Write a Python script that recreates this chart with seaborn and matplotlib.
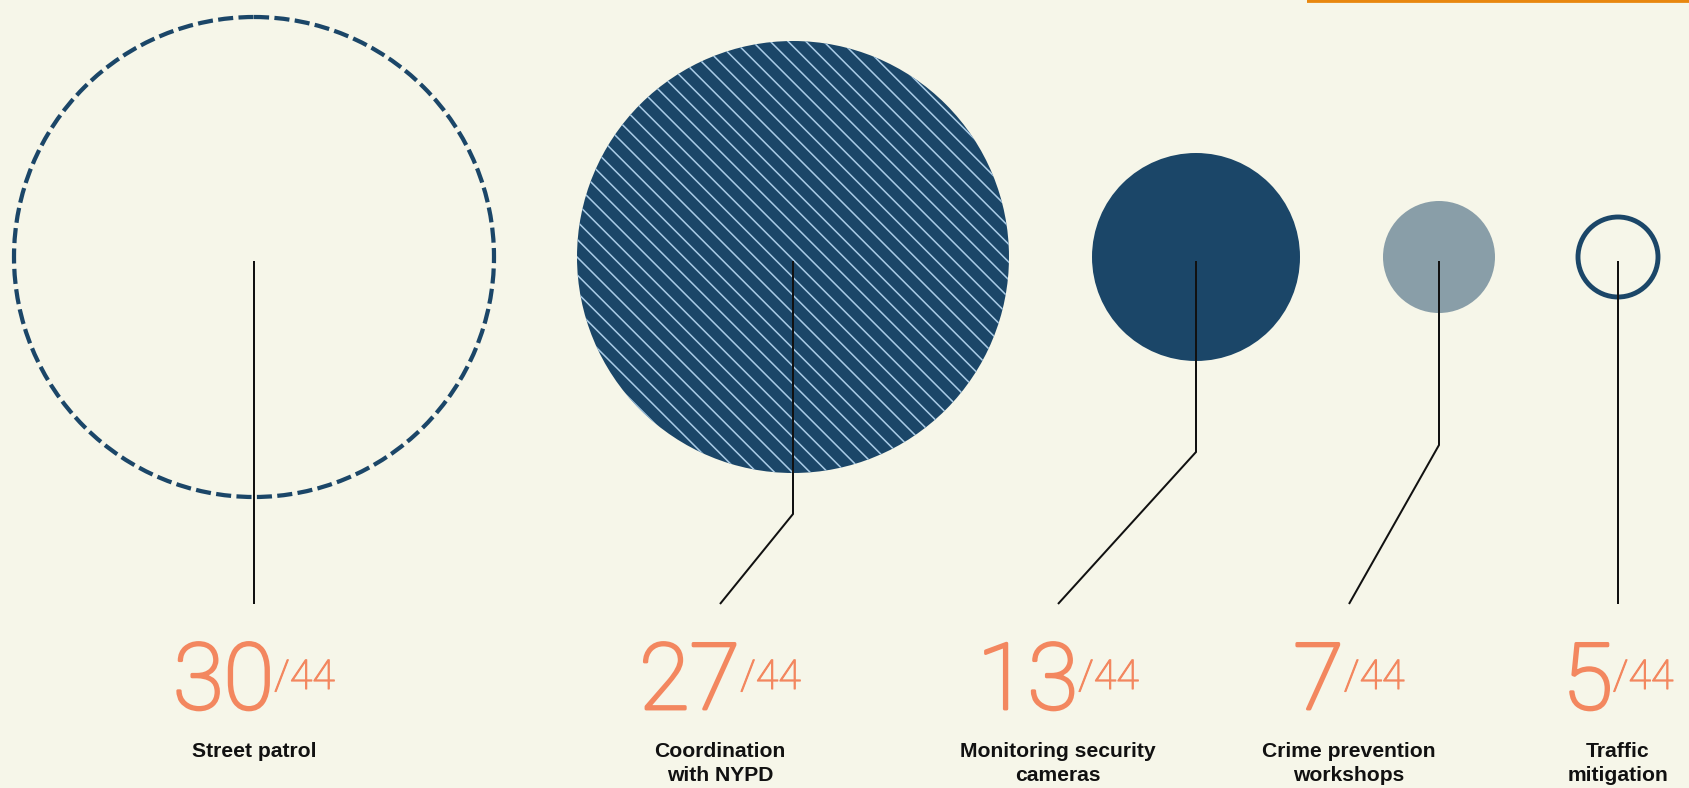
import matplotlib
matplotlib.use("Agg")
import matplotlib.pyplot as plt
import matplotlib.patheffects as pe
from matplotlib.patches import Circle
import seaborn as sns

# --- data ---
categories = [
    "Street patrol",
    "Coordination\nwith NYPD",
    "Monitoring security\ncameras",
    "Crime prevention\nworkshops",
    "Traffic\nmitigation",
]
counts = [30, 27, 13, 7, 5]
total = 44

# --- colours / styles ---
BG = "#F6F6E9"
NAVY = "#1B4668"
SLATE = "#899EA8"
STRIPE = "#A9CBE6"
SALMON = "#F3875F"
ORANGE = "#E8870F"
INK = "#111111"
styles = ["dashed", "hatched", "solid", "muted", "ring"]

# --- layout (1 data unit == 1 output pixel) ---
W, H, DPI = 1689, 788, 160
px_per_count = 8.0
gap = 83          # space between neighbouring circles
left = 14
cy = 257
line_top = 261
line_bottom = 604
bend_y = [604, 514, 452, 445, 604]
anchor_shift = [0, -73, -138, -90, 0]
num_y, frac_y, label_y = 709, 689, 742

sns.set_theme(style="white", rc={
    "axes.facecolor": BG,
    "figure.facecolor": BG,
    "hatch.linewidth": 0.7,
    "lines.scale_dashes": False,
})
plt.rcParams["font.family"] = ["Roboto", "DejaVu Sans"]

fig = plt.figure(figsize=(W / DPI, H / DPI), dpi=DPI)
ax = fig.add_axes([0, 0, 1, 1])
ax.set_xlim(0, W)
ax.set_ylim(H, 0)
ax.axis("off")

# circle radius grows linearly with the count, packed left to right
radii = [c * px_per_count for c in counts]
centers = []
x = left
for r in radii:
    centers.append(x + r)
    x += 2 * r + gap

for cx, r, st in zip(centers, radii, styles):
    if st == "dashed":
        ax.add_patch(Circle((cx, cy), r, fill=False, ec=NAVY, lw=1.9,
                            ls=(0, (6.8, 2.4))))
    elif st == "hatched":
        ax.add_patch(Circle((cx, cy), r, fc=NAVY, ec="none", lw=0))
        ax.add_patch(Circle((cx, cy), r, fc="none", ec=STRIPE, lw=0, hatch="\\\\\\"))
    elif st == "solid":
        ax.add_patch(Circle((cx, cy), r, fc=NAVY, ec="none", lw=0))
    elif st == "muted":
        ax.add_patch(Circle((cx, cy), r, fc=SLATE, ec="none", lw=0))
    else:
        ax.add_patch(Circle((cx, cy), r, fill=False, ec=NAVY, lw=2.2))

# leader lines
anchors = []
for cx, by, dx in zip(centers, bend_y, anchor_shift):
    ax.plot([cx, cx, cx + dx], [line_top, by, line_bottom], color=INK, lw=0.9,
            solid_capstyle="butt", solid_joinstyle="miter")
    anchors.append(cx + dx)

# big count + small "/44", centred together under each leader
pairs = []
for a, c in zip(anchors, counts):
    b = ax.text(a, num_y, str(c), ha="right", va="baseline", fontsize=41.5,
                color=SALMON, fontweight="light",
                path_effects=[pe.withStroke(linewidth=1.3, foreground=SALMON)])
    s = ax.text(a, frac_y, f"/{total}", ha="left", va="baseline", fontsize=18.5,
                color=SALMON, fontweight="light",
                path_effects=[pe.withStroke(linewidth=0.5, foreground=SALMON)])
    pairs.append((a, b, s))

fig.canvas.draw()
renderer = fig.canvas.get_renderer()
for a, b, s in pairs:
    wb = b.get_window_extent(renderer).width
    ws = s.get_window_extent(renderer).width
    x0 = a + (wb - ws) / 2
    b.set_x(x0)
    s.set_x(x0)

for a, lab in zip(anchors, categories):
    ax.text(a, label_y, lab, ha="center", va="top", fontsize=9.5, fontweight="bold",
            color=INK, linespacing=1.35, family=["Liberation Sans", "DejaVu Sans"])

# orange rule peeking in at the top right
ax.plot([1307, W], [0, 0], color=ORANGE, lw=2.6, clip_on=False, solid_capstyle="butt")

fig.savefig("out.png", dpi=DPI, facecolor=BG)
